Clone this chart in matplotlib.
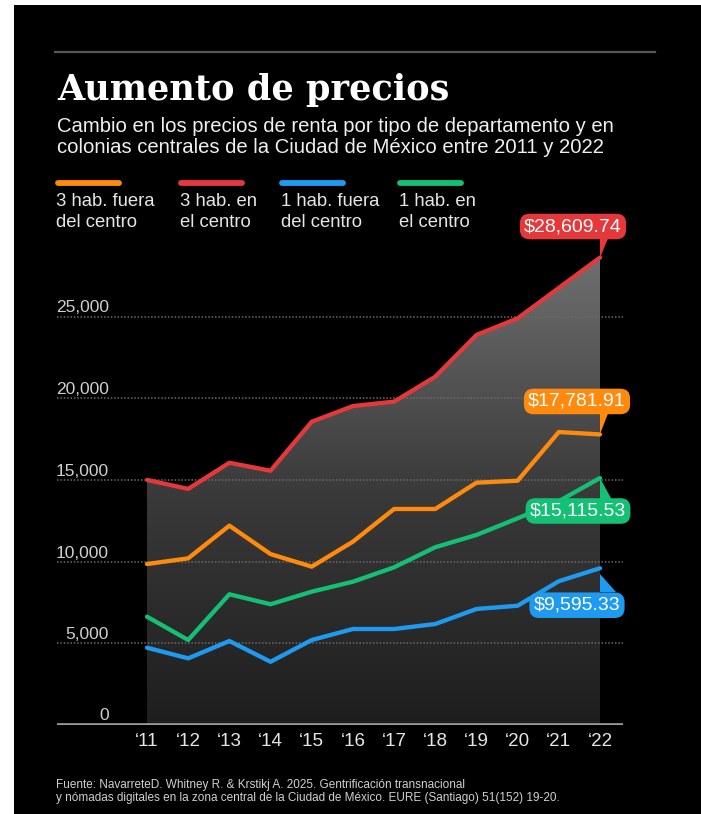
import numpy as np
import matplotlib
matplotlib.use("Agg")
import matplotlib.pyplot as plt
from matplotlib.colors import LinearSegmentedColormap
from matplotlib.patches import Polygon, Rectangle
from matplotlib.lines import Line2D
from matplotlib.transforms import IdentityTransform

# ---------------- data ----------------
years = [2011, 2012, 2013, 2014, 2015, 2016, 2017, 2018, 2019, 2020, 2021, 2022]
year_labels = ["\u201811", "\u201812", "\u201813", "\u201814", "\u201815", "\u201816",
               "\u201817", "\u201818", "\u201819", "\u201820", "\u201821", "\u201822"]
tres_fuera = [9850, 10200, 12200, 10460, 9690, 11220, 13220, 13220, 14830, 14950, 17930, 17781.91]
tres_centro = [15000, 14450, 16050, 15560, 18560, 19520, 19790, 21320, 23870, 24890, 26750, 28609.74]
uno_fuera = [4730, 4080, 5140, 3870, 5200, 5875, 5875, 6180, 7100, 7300, 8800, 9595.33]
uno_centro = [6630, 5200, 8000, 7390, 8160, 8770, 9650, 10880, 11630, 12650, 13700, 15115.53]
y_ticks = [0, 5000, 10000, 15000, 20000, 25000]
y_tick_labels = ["0", "5,000", "10,000", "15,000", "20,000", "25,000"]
series_names = ["3 hab. fuera\ndel centro", "3 hab. en\nel centro",
                "1 hab. fuera\ndel centro", "1 hab. en\nel centro"]
end_labels = ["$17,781.91", "$28,609.74", "$9,595.33", "$15,115.53"]

title = "Aumento de precios"
subtitle = ["Cambio en los precios de renta por tipo de departamento y en",
            "colonias centrales de la Ciudad de México entre 2011 y 2022"]
source = ["Fuente: NavarreteD. Whitney R. & Krstikj A. 2025. Gentrificación transnacional",
          "y nómadas digitales en la zona central de la Ciudad de México. EURE (Santiago) 51(152) 19-20."]

# ---------------- style ----------------
colors = ["#FF8A0D", "#E5383B", "#1E9BF0", "#14C073"]
SANS = ["Liberation Sans", "DejaVu Sans"]
W, H = 701, 814

fig = plt.figure(figsize=(W / 100, H / 100), dpi=100)
fig.patch.set_facecolor("white")


def fx(px):
    return px / W


def fy(py):
    return 1 - py / H


fig.add_artist(Rectangle((fx(14), 0), 1 - fx(14), fy(5), transform=fig.transFigure,
                         facecolor="black", edgecolor="none", zorder=-10))

# top rule
fig.add_artist(Line2D([fx(55), fx(655)], [fy(52), fy(52)], transform=fig.transFigure,
                      color="#575757", lw=1.6))

# title & subtitle
fig.text(fx(57), fy(100), title, family="DejaVu Serif", fontweight="bold",
         fontsize=25.3, color="white", va="baseline", ha="left")
for i, line in enumerate(subtitle):
    fig.text(fx(57), fy(132 + 21 * i), line, family=SANS, fontsize=14.6,
             color="#f0f0f0", va="baseline", ha="left")

# legend
leg_x = [55, 178, 279, 397]
leg_txt_x = [56, 180, 281, 399]
for c, name, x0, tx in zip(colors, series_names, leg_x, leg_txt_x):
    fig.add_artist(Line2D([fx(x0 + 3), fx(x0 + 64)], [fy(183), fy(183)],
                          transform=fig.transFigure, color=c, lw=4.2,
                          solid_capstyle="round"))
    for j, ln in enumerate(name.split("\n")):
        fig.text(fx(tx), fy(206 + 21 * j), ln, family=SANS, fontsize=13.3,
                 color="#e6e6e6", va="baseline", ha="left")

# source
for i, line in enumerate(source):
    fig.text(fx(56), fy(788 + 13 * i), line, family=SANS, fontsize=8.5,
             color="#d0d0d0", va="baseline", ha="left")

# ---------------- axes ----------------
ax_l, ax_r, ax_b, ax_t = 57, 623, 725, 160
ax = fig.add_axes([fx(ax_l), fy(ax_b), (ax_r - ax_l) / W, (ax_b - ax_t) / H])
ax.set_facecolor("none")
ax.axis("off")

px_per_unit = 81.7 / 5000
px_per_year = (600 - 147) / 11

# gradient fill under the "3 hab. en el centro" line
verts = [(years[0], 0)] + list(zip(years, tres_centro)) + [(years[-1], 0)]
poly = Polygon(verts, closed=True, facecolor="none", edgecolor="none")
ax.add_patch(poly)
grad = np.linspace(0, 1, 256).reshape(-1, 1)
cmap = LinearSegmentedColormap.from_list("g", ["#1e1e1e", "#3a3a3a", "#6f6f6f"])
im = ax.imshow(grad, extent=[years[0], years[-1], 0, max(tres_centro)], origin="lower",
               aspect="auto", cmap=cmap, zorder=1, interpolation="bilinear")
im.set_clip_path(poly)

ax.set_xlim(years[0] - (147 - ax_l) / px_per_year, years[-1] + (ax_r - 600) / px_per_year)
ax.set_ylim(0, (ax_b - ax_t) / px_per_unit)

# grid
for v, lab in zip(y_ticks, y_tick_labels):
    if v == 0:
        ax.axhline(v, color="#9c9c9c", lw=2.6, zorder=2, solid_capstyle="butt")
    else:
        ax.axhline(v, color="#6a6a6a", lw=1.1, ls=(0, (1, 1.2)), zorder=2)
    ax.annotate(lab, xy=((109 - ax_l) / (ax_r - ax_l), v), xycoords=("axes fraction", "data"),
                xytext=(0, 4 if v else 5), textcoords="offset pixels", ha="right", va="baseline",
                family=SANS, fontsize=12.5, color="#cfcfcf")

for yr, lab in zip(years, year_labels):
    ax.annotate(lab, xy=(yr, 0), xycoords="data", xytext=(0, -17), textcoords="offset pixels",
                ha="center", va="center", family=SANS, fontsize=13.5, color="#e6e6e6")

# lines
series = [tres_fuera, tres_centro, uno_fuera, uno_centro]
order = [1, 0, 3, 2]
for k in order:
    ax.plot(years, series[k], color=colors[k], lw=3.1, solid_joinstyle="round",
            solid_capstyle="round", zorder=3)

# end labels with pointers
offsets = [(-23, 33), (-27, 31), (-23, -37), (-22, -33)]
tri = [[(0, 0), (0, 23), (9, 23)],
       [(0, 0), (0, 22), (9, 22)],
       [(0, -6), (0, -24), (16, -24)],
       [(0, 0), (0, -22), (12, -22)]]
for k in range(4):
    xd, yd = years[-1], series[k][-1]
    tip = ax.transData.transform((xd, yd))
    pts = [(tip[0] + dx, tip[1] + dy) for dx, dy in tri[k]]
    fig.add_artist(Polygon(pts, closed=True, transform=IdentityTransform(),
                           facecolor=colors[k], edgecolor="none", zorder=4))
    ax.annotate(end_labels[k], xy=(xd, yd), xycoords="data", xytext=offsets[k],
                textcoords="offset pixels", ha="center", va="center", family=SANS,
                fontsize=14, color="white", zorder=5, annotation_clip=False,
                bbox=dict(boxstyle="round,pad=0.22,rounding_size=0.5", fc=colors[k], ec="none"))

fig.savefig("out.png", dpi=100, facecolor=fig.get_facecolor())
